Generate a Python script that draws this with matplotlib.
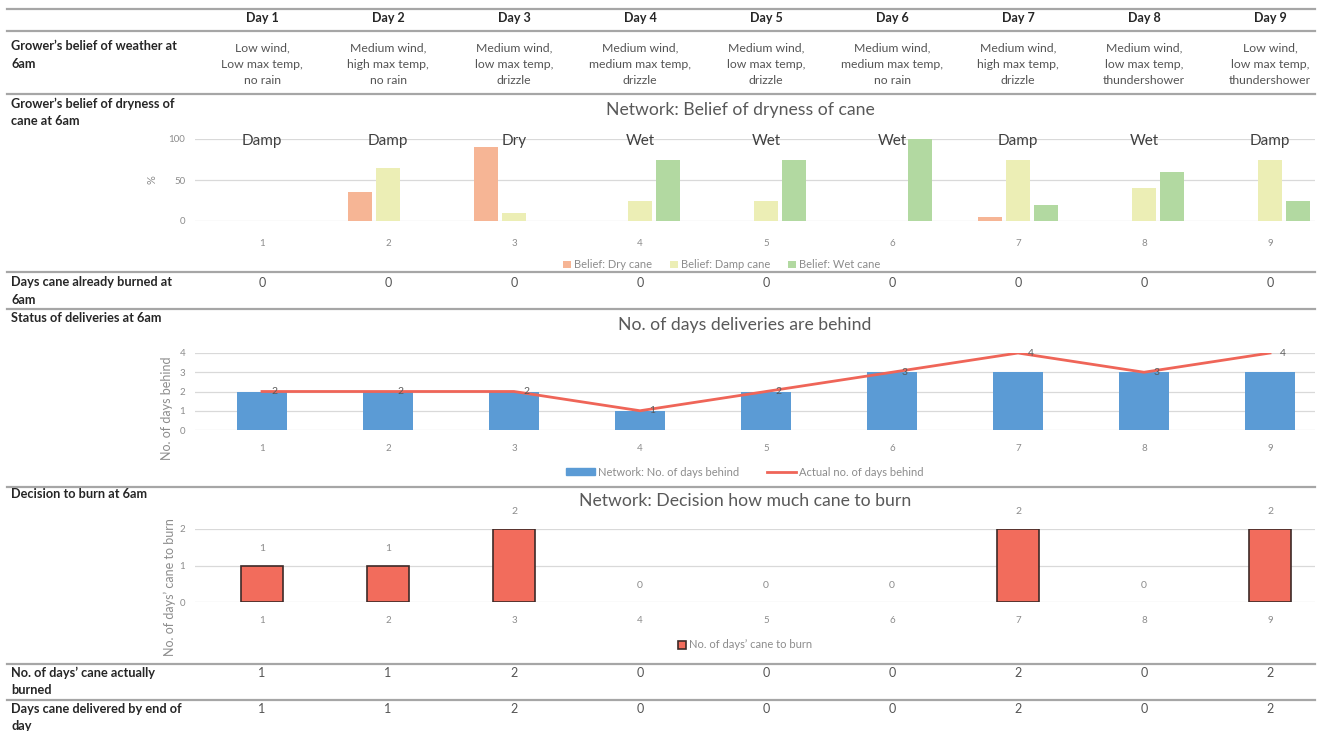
import numpy as np
import matplotlib
matplotlib.use('Agg')
import matplotlib.pyplot as plt
from matplotlib.patches import Patch
from matplotlib.lines import Line2D

plt.rcParams['font.family'] = ['Lato', 'DejaVu Sans']

# --- data -------------------------------------------------------------
days = np.arange(1, 10)
day_headers = ['Day %d' % d for d in days]
weather = ['Low wind,\nLow max temp,\nno rain',
           'Medium wind,\nhigh max temp,\nno rain',
           'Medium wind,\nlow max temp,\ndrizzle',
           'Medium wind,\nmedium max temp,\ndrizzle',
           'Medium wind,\nlow max temp,\ndrizzle',
           'Medium wind,\nmedium max temp,\nno rain',
           'Medium wind,\nhigh max temp,\ndrizzle',
           'Medium wind,\nlow max temp,\nthundershower',
           'Low wind,\nlow max temp,\nthundershower']
dryness_label = ['Damp', 'Damp', 'Dry', 'Wet', 'Wet', 'Wet', 'Damp', 'Wet', 'Damp']
belief_dry = [0, 35, 90, 0, 0, 0, 5, 0, 0]
belief_damp = [0, 65, 10, 25, 25, 0, 75, 40, 75]
belief_wet = [0, 0, 0, 75, 75, 100, 20, 60, 25]
already_burned = [0, 0, 0, 0, 0, 0, 0, 0, 0]
network_behind = [2, 2, 2, 1, 2, 3, 3, 3, 3]
actual_behind = [2, 2, 2, 1, 2, 3, 4, 3, 4]
burn_decision = [1, 1, 2, 0, 0, 0, 2, 0, 2]
actually_burned = [1, 1, 2, 0, 0, 0, 2, 0, 2]
delivered = [1, 1, 2, 0, 0, 0, 2, 0, 2]

W, H = 1325, 731
fig = plt.figure(figsize=(W / 100, H / 100), dpi=100)
fig.patch.set_facecolor('white')


def fx(px):
    return px / W


def fy(py):
    return 1 - py / H


col_x = [262 + 126 * i for i in range(9)]
TXT = '#555555'
DARK = '#262626'
GRID = '#d9d9d9'
TICK = '#8c8c8c'
TITLE = '#595959'

# table rules
for yy in [9, 31, 94, 272, 309, 487, 664, 700]:
    fig.add_artist(Line2D([fx(7), fx(1315)], [fy(yy), fy(yy)],
                          color='#a6a6a6', lw=1.6))

# header row
for x, lab in zip(col_x, day_headers):
    fig.text(fx(x), fy(18), lab, ha='center', va='center', fontsize=9,
             fontweight='bold', color=DARK)

row_labels = [(55, 'Grower\u2019s belief of weather at\n6am'),
              (112.5, 'Grower\u2019s belief of dryness of\ncane at 6am'),
              (291, 'Days cane already burned at\n6am'),
              (318, 'Status of deliveries at 6am'),
              (494, 'Decision to burn at 6am'),
              (681.5, 'No. of days\u2019 cane actually\nburned'),
              (717.5, 'Days cane delivered by end of\nday')]
for yy, lab in row_labels:
    fig.text(fx(11), fy(yy), lab, ha='left', va='center', fontsize=9.2,
             fontweight='bold', color=DARK, linespacing=1.55)

for x, w in zip(col_x, weather):
    fig.text(fx(x), fy(64), w, ha='center', va='center', fontsize=8.8,
             color=TXT, linespacing=1.6)

for yy, vals in [(283, already_burned), (673, actually_burned), (709, delivered)]:
    for x, v in zip(col_x, vals):
        fig.text(fx(x), fy(yy), str(v), ha='center', va='center',
                 fontsize=9, color=TXT)

# shared x mapping: day 1 -> 262 px, day 9 -> 1270 px, axes spans 195..1315 px
X0, X1 = 195, 1315
xlim = (1 + (X0 - 262) / 126, 9 + (X1 - 1270) / 126)


def chart_axes(ytop, ybot, xpad=10):
    ax = fig.add_axes([fx(X0), fy(ybot), fx(X1 - X0), (ybot - ytop) / H])
    ax.set_xlim(*xlim)
    for s in ax.spines.values():
        s.set_visible(False)
    ax.grid(axis='y', color=GRID, lw=0.9)
    ax.set_axisbelow(True)
    ax.tick_params(length=0, labelsize=7, labelcolor=TICK)
    ax.tick_params(axis='x', pad=xpad)
    ax.tick_params(axis='y', pad=7)
    ax.set_xticks(days)
    ax.set_facecolor('none')
    return ax


# --- chart 1: belief of dryness ----------------------------------------
ax1 = chart_axes(139, 221, xpad=13)
ax1.set_ylim(0, 100)
ax1.set_yticks([0, 50, 100])
off, bw = 0.225, 0.19
ax1.bar(days - off, belief_dry, bw, color='#f6b595', label='Belief: Dry cane')
ax1.bar(days, belief_damp, bw, color='#eceeb5', label='Belief: Damp cane')
ax1.bar(days + off, belief_wet, bw, color='#b2d9a1', label='Belief: Wet cane')
for d, lab in zip(days, dryness_label):
    ax1.text(d, 98, lab, ha='center', va='center', fontsize=11,
             color='#404040', clip_on=False)
ax1.set_ylabel('%', fontsize=8, color=TICK, labelpad=8)
fig.text(fx(740), fy(110), 'Network: Belief of dryness of cane', ha='center',
         va='center', fontsize=12.7, color=TITLE)
fig.legend(*ax1.get_legend_handles_labels(), loc='center', ncol=3,
           bbox_to_anchor=(fx(722), fy(265)), frameon=False, fontsize=8,
           handlelength=0.7, handleheight=0.7, handletextpad=0.3,
           columnspacing=1.6, labelcolor=TICK)

# --- chart 2: days behind ----------------------------------------------
ax2 = chart_axes(353, 430)
ax2.set_ylim(0, 4)
ax2.set_yticks(range(5))
ax2.bar(days, network_behind, 0.4, color='#5b9bd5',
        label='Network: No. of days behind')
ax2.plot(days, actual_behind, color='#ef6558', lw=2,
         label='Actual no. of days behind')
for d, v in zip(days, actual_behind):
    ax2.annotate(str(v), (d, v), xytext=(9, 0), textcoords='offset points',
                 ha='center', va='center', fontsize=7.5, color='#595959')
ax2.set_ylabel('No. of days behind', fontsize=9, color=TICK)
ax2.yaxis.set_label_coords(-0.02, 0.28)
fig.text(fx(745), fy(325), 'No. of days deliveries are behind', ha='center',
         va='center', fontsize=12.7, color=TITLE)
h2 = [Patch(color='#5b9bd5'), Line2D([0], [0], color='#ef6558', lw=2)]
fig.legend(h2, ['Network: No. of days behind', 'Actual no. of days behind'],
           loc='center', ncol=2, bbox_to_anchor=(fx(745), fy(472)),
           frameon=False, fontsize=8, handlelength=2.6, handleheight=0.6,
           handletextpad=0.3, columnspacing=2.5, labelcolor=TICK)

# --- chart 3: decision how much to burn --------------------------------
ax3 = chart_axes(529, 602)
ax3.set_ylim(0, 2)
ax3.set_yticks(range(3))
bars3 = ax3.bar(days, burn_decision, 0.33, color='#f26c5c',
                edgecolor='#3d2a28', lw=1.2,
                label='No. of days\u2019 cane to burn')
for b, v in zip(bars3, burn_decision):
    if v == 0:
        b.set_visible(False)
for d, v in zip(days, burn_decision):
    ax3.annotate(str(v), (d, v), xytext=(0, 9), textcoords='offset points',
                 ha='center', va='bottom', fontsize=7.5, color=TICK)
ax3.set_ylabel('No. of days\u2019 cane to burn', fontsize=9, color=TICK)
ax3.yaxis.set_label_coords(-0.017, 0.2)
fig.text(fx(745), fy(501), 'Network: Decision how much cane to burn',
         ha='center', va='center', fontsize=12.7, color=TITLE)
fig.legend([Patch(facecolor='#f26c5c', edgecolor='#3d2a28', lw=1.2)],
           ['No. of days\u2019 cane to burn'], loc='center',
           bbox_to_anchor=(fx(745), fy(645)), frameon=False, fontsize=8,
           handlelength=0.7, handleheight=0.7, handletextpad=0.3,
           labelcolor=TICK)

fig.savefig('out.png', dpi=100, facecolor='white')
